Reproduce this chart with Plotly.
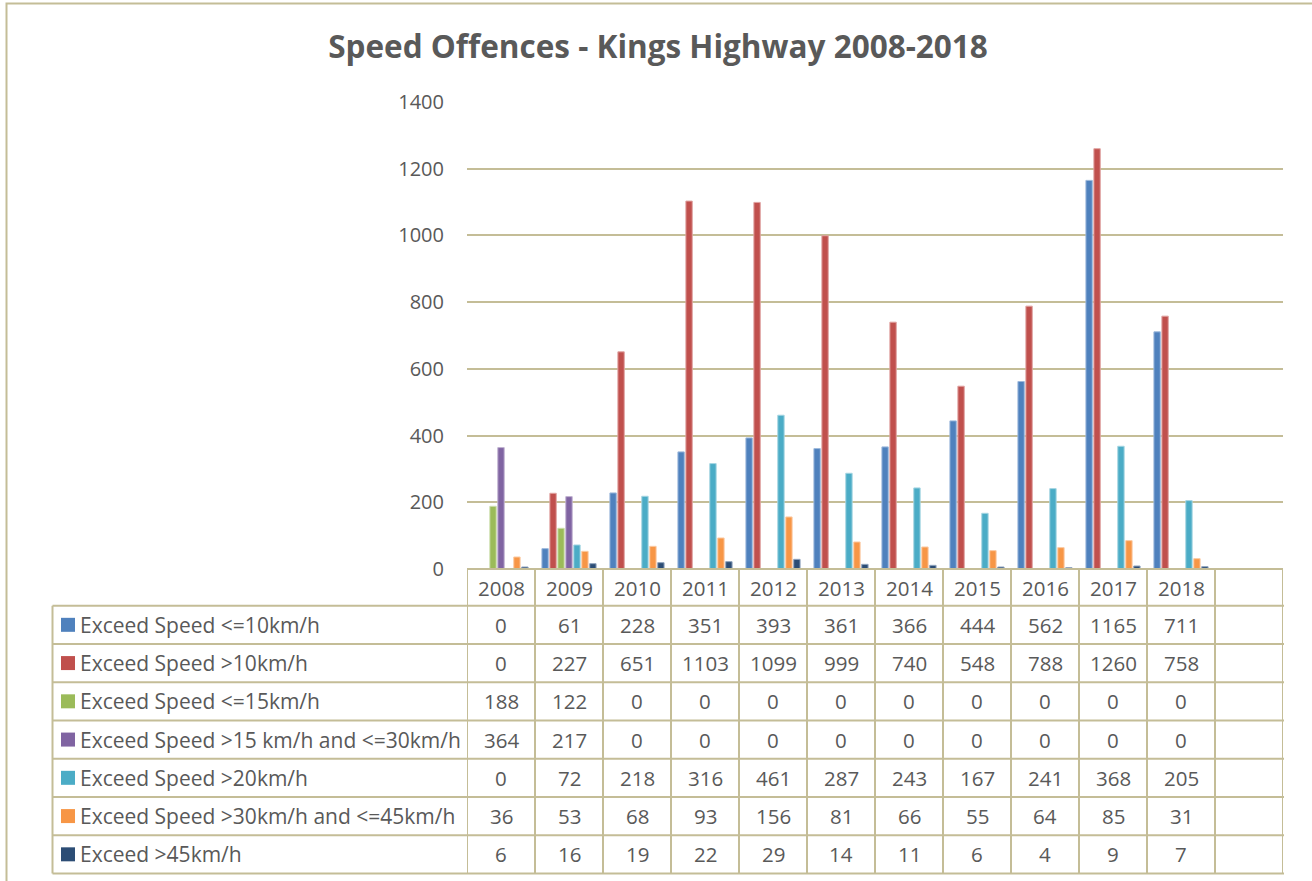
import plotly.graph_objects as go

years = ["2008", "2009", "2010", "2011", "2012", "2013", "2014", "2015", "2016", "2017", "2018"]
series_names = [
    "Exceed Speed <=10km/h",
    "Exceed Speed >10km/h",
    "Exceed Speed <=15km/h",
    "Exceed Speed >15 km/h and <=30km/h",
    "Exceed Speed >20km/h",
    "Exceed Speed >30km/h and <=45km/h",
    "Exceed >45km/h",
]
le10 = [0, 61, 228, 351, 393, 361, 366, 444, 562, 1165, 711]
gt10 = [0, 227, 651, 1103, 1099, 999, 740, 548, 788, 1260, 758]
le15 = [188, 122, 0, 0, 0, 0, 0, 0, 0, 0, 0]
gt15_le30 = [364, 217, 0, 0, 0, 0, 0, 0, 0, 0, 0]
gt20 = [0, 72, 218, 316, 461, 287, 243, 167, 241, 368, 205]
gt30_le45 = [36, 53, 68, 93, 156, 81, 66, 55, 64, 85, 31]
gt45 = [6, 16, 19, 22, 29, 14, 11, 6, 4, 9, 7]
series_values = [le10, gt10, le15, gt15_le30, gt20, gt30_le45, gt45]
colors = ["#4F81BD", "#C0504D", "#9BBB59", "#8064A2", "#4BACC6", "#F79646", "#2C4D75"]
edge_colors = ["#9DB9DC", "#E0A3A1", "#CCDDAC", "#BFB1D0", "#A5D5E2", "#FBCAA2", "#8FA3BD"]

TEXT = "#595959"
GRID = "#C4BD97"
FONT = "Open Sans"

# pixel helpers for layout placement (plot area in pixels)
L, R, T, B = 467, 1283, 102, 569
def xp(px):
    return (px - L) / (R - L)
def yp(py):
    return (B - py) / (B - T)

fig = go.Figure()
for name, vals, c, ec in zip(series_names, series_values, colors, edge_colors):
    fig.add_trace(go.Bar(
        x=years, y=vals, name=name,
        marker=dict(color=c, line=dict(color=ec, width=1)),
        showlegend=False,
    ))

shapes = []
annotations = []

# Outer chart border
shapes.append(dict(type="rect", xref="paper", yref="paper",
                   x0=xp(6.5), x1=xp(1330), y0=yp(900), y1=yp(3.5),
                   line=dict(color=GRID, width=2), layer="below"))

# Data table geometry
row_top = 605.7
row_h = 38.25
table_left = 52.5
n_rows = len(series_names)
table_bottom = row_top + n_rows * row_h

for i in range(n_rows + 1):
    yy = yp(row_top + i * row_h)
    shapes.append(dict(type="line", xref="paper", yref="paper",
                       x0=xp(table_left), x1=xp(1284), y0=yy, y1=yy,
                       line=dict(color=GRID, width=2)))
shapes.append(dict(type="line", xref="paper", yref="paper",
                   x0=0, x1=1, y0=0, y1=0, line=dict(color=GRID, width=2)))
shapes.append(dict(type="line", xref="paper", yref="paper",
                   x0=xp(table_left), x1=xp(table_left), y0=yp(row_top), y1=yp(table_bottom),
                   line=dict(color=GRID, width=2)))
for i in range(len(years) + 2):
    shapes.append(dict(type="line", xref="x", yref="paper",
                       x0=i - 0.5, x1=i - 0.5, y0=0, y1=yp(table_bottom),
                       line=dict(color=GRID, width=2)))

# header years
for i, yr in enumerate(years):
    annotations.append(dict(x=i, y=yp(587.5), xref="x", yref="paper", text=yr,
                            xanchor="center", yanchor="middle",
                            showarrow=False, font=dict(family=FONT, size=20.5, color=TEXT)))

# rows
for r, (name, vals, c) in enumerate(zip(series_names, series_values, colors)):
    cy = row_top + (r + 0.5) * row_h
    shapes.append(dict(type="rect", xref="paper", yref="paper",
                       x0=xp(61), x1=xp(75), y0=yp(cy + 7), y1=yp(cy - 7),
                       fillcolor=c, line=dict(width=0)))
    annotations.append(dict(x=xp(78), y=yp(cy), xref="paper", yref="paper", text=name,
                            xanchor="left", yanchor="middle", showarrow=False,
                            font=dict(family=FONT, size=21, color=TEXT)))
    for i, v in enumerate(vals):
        annotations.append(dict(x=i, y=yp(cy), xref="x", yref="paper", text=str(v),
                                xanchor="center", yanchor="middle",
                                showarrow=False, font=dict(family=FONT, size=20.5, color=TEXT)))

fig.update_layout(
    width=1312, height=881,
    margin=dict(l=L, r=1312 - R, t=T, b=881 - B),
    paper_bgcolor="white", plot_bgcolor="white",
    barmode="group", bargap=0.18, bargroupgap=0.2,
    title=dict(text="<b>Speed Offences - Kings Highway 2008-2018</b>",
               x=658 / 1312, y=1 - 47 / 881, xref="container", yref="container",
               xanchor="center", yanchor="middle",
               font=dict(family=FONT, size=31.5, color=TEXT)),
    xaxis=dict(type="category", range=[-0.5, 11.5], showticklabels=False,
               showgrid=False, zeroline=False, showline=False, ticks=""),
    yaxis=dict(range=[0, 1400], dtick=200, showgrid=True, gridcolor=GRID, gridwidth=2,
               zeroline=False, showline=False, ticks="", ticklabelstandoff=22,
               tickfont=dict(family=FONT, size=20, color=TEXT)),
    shapes=shapes, annotations=annotations,
    font=dict(family=FONT, color=TEXT),
)

fig.write_html("out.html", config={"displayModeBar": False},
               post_script="document.body.style.margin='0px';")
